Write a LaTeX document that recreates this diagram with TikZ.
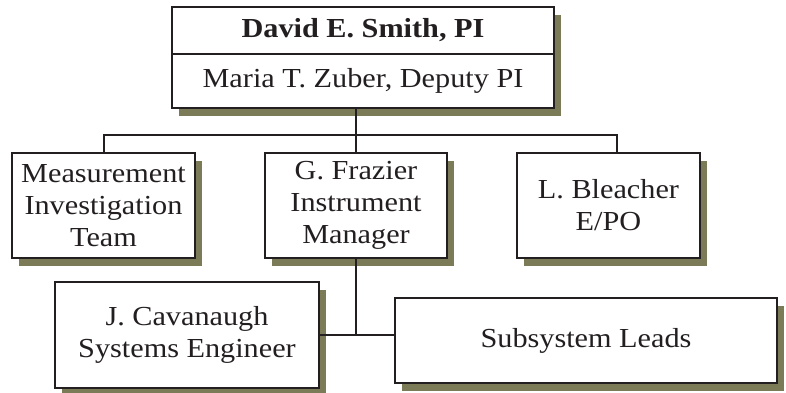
\documentclass[tikz,border=0pt]{standalone}
\usepackage{fontspec}
\setmainfont{Liberation Serif}[FakeStretch=1.1]
\usepackage{tikz}
\usetikzlibrary{
  positioning, shadows, calc
}
\definecolor{shadowolive}{HTML}{7B7B57}
\definecolor{inkblack}{HTML}{231F20}
\tikzset{
  % Org chart boxes
  orgbox/.style={
    rectangle, draw=inkblack, fill=white, text=inkblack, line width=2.4pt,
    align=center, inner sep=0pt, outer sep=0pt, minimum width=#1,
    font=\fontsize{27.5}{32}\selectfont,
    drop shadow={shadow xshift=7pt, shadow yshift=-8pt, fill=shadowolive, opacity=1},
  },
  orgbox/.default={183pt},
  % Connector lines
  orgline/.style={draw=inkblack, line width=2pt},
}

\begin{document}
\begin{tikzpicture}[x=1pt, y=-1pt]
  \useasboundingbox (0,0) rectangle (786,392);

  % Nodes
  \node[orgbox=382pt, minimum height=47pt,
        font=\fontsize{27.5}{32}\selectfont\bfseries] (pi) at (363,30.5) {David E. Smith, PI};
  \node[orgbox=382pt, minimum height=54pt, below=0pt of pi] (deputy) {Maria T. Zuber, Deputy PI};

  \node[orgbox, minimum height=105pt] (meas) at (103.5,205.5) {
    Measurement\\Investigation\\Team
  };
  \node[orgbox=182pt, minimum height=105pt] (frazier) at (356,205.5) {
    G. Frazier\\Instrument\\Manager
  };
  \node[orgbox, minimum height=105pt] (bleacher) at (608.5,205.5) {
    L. Bleacher\\E/PO
  };

  \node[orgbox=264pt, minimum height=106pt] (cav) at (187,335) {
    J. Cavanaugh\\Systems Engineer
  };
  \node[orgbox=382pt, minimum height=85pt] (subsys) at (586,340.5) {Subsystem Leads};

  % Connectors
  \coordinate (bus) at (357,135);
  \draw[orgline] (deputy.south -| frazier.north) -- (frazier.north);
  \draw[orgline] (meas.north) |- (bus) -| ([xshift=8.5pt]bleacher.north);
  \draw[orgline] (frazier.south) -- (frazier.south |- cav.east);
  \draw[orgline] (cav.east) -- (subsys.west |- cav.east);
\end{tikzpicture}
\end{document}
